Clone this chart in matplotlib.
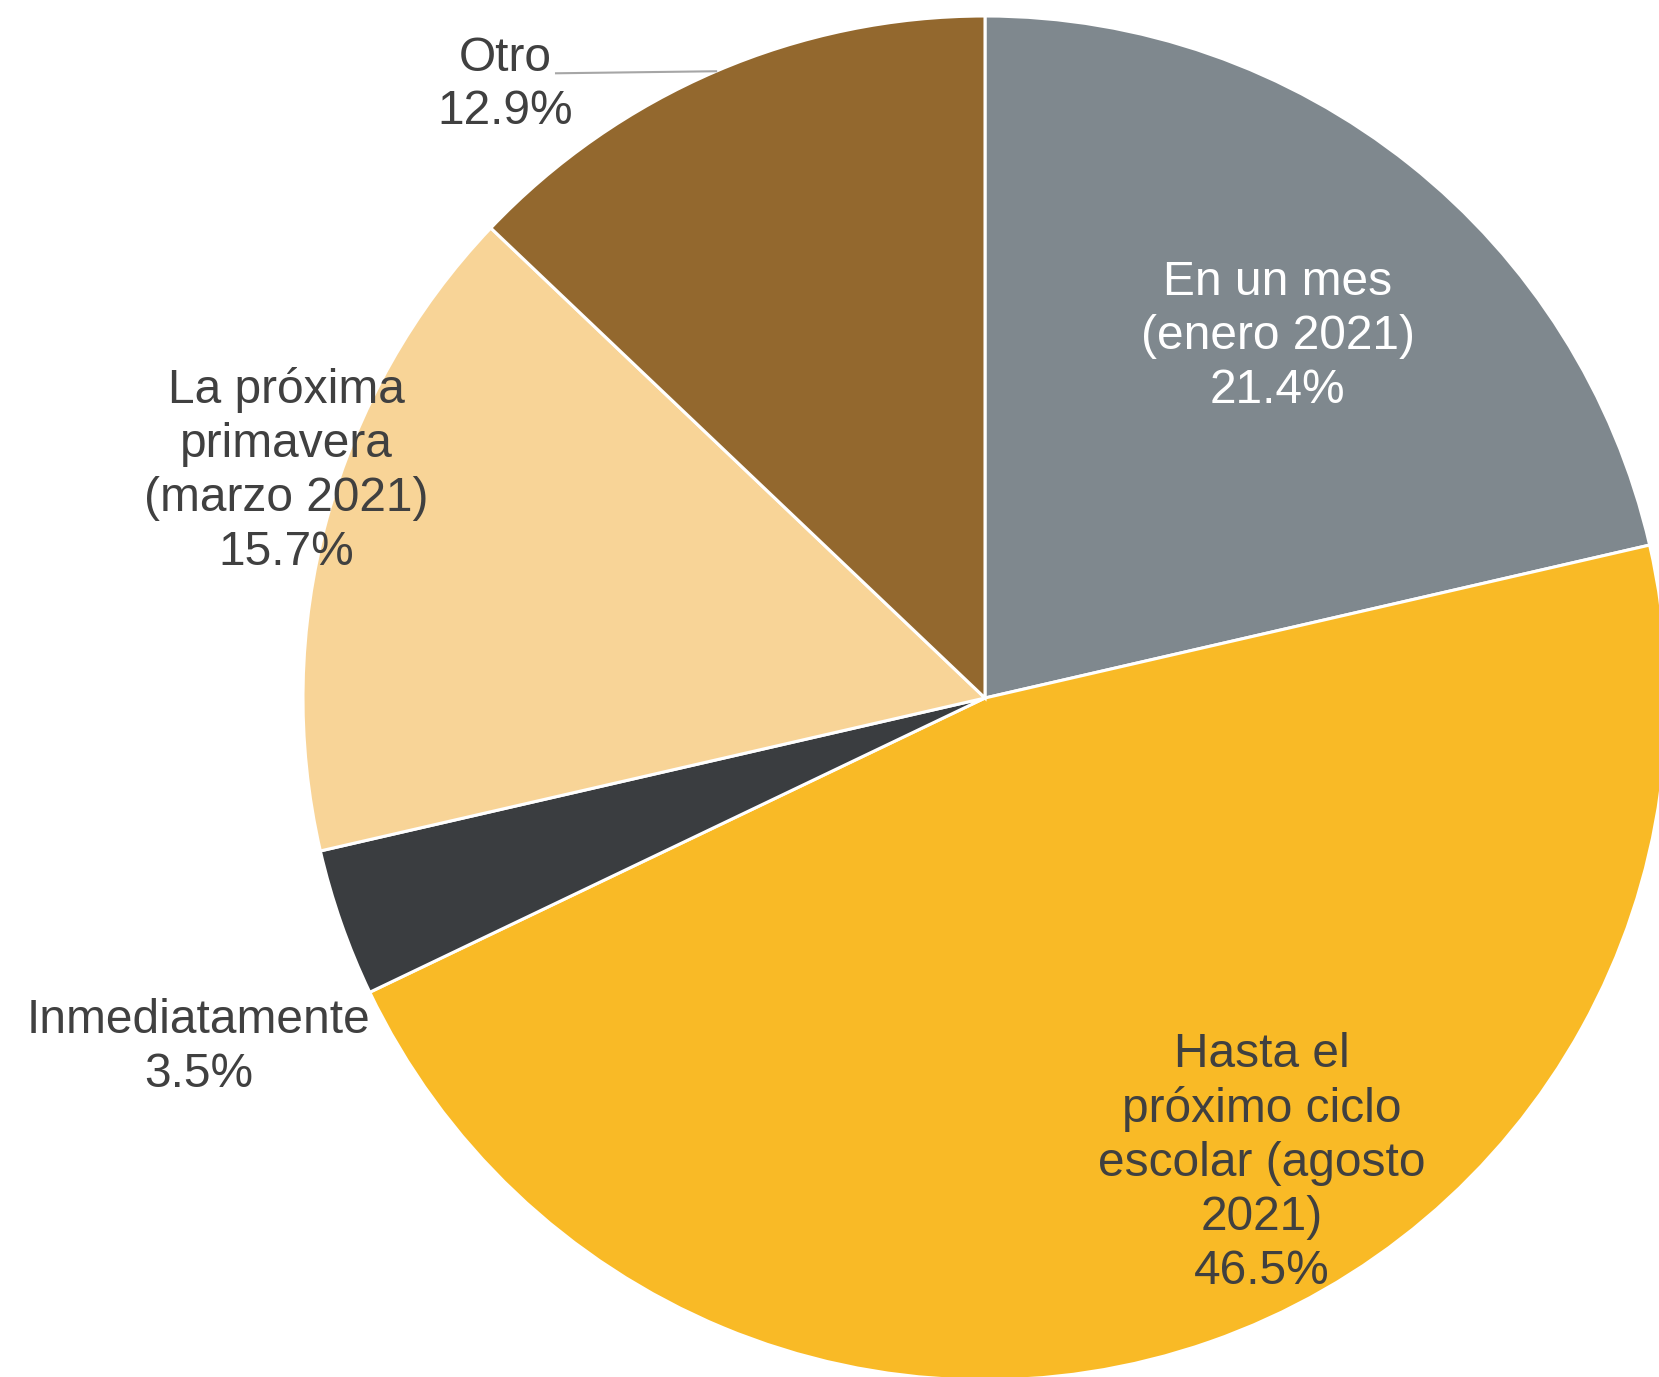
import numpy as np
import matplotlib.pyplot as plt

plt.rcParams['font.family'] = ['Liberation Sans', 'DejaVu Sans']

# data
labels = ['En un mes\n(enero 2021)', 'Hasta el\npróximo ciclo\nescolar (agosto\n2021)',
          'Inmediatamente', 'La próxima\nprimavera\n(marzo 2021)', 'Otro']
values = [21.4, 46.5, 3.5, 15.7, 12.9]
colors = ['#7F888E', '#F9BA26', '#3A3D40', '#F8D497', '#93682E']
text_colors = ['white', '#404040', '#404040', '#404040', '#404040']
# label centres, in units of the pie radius
label_pos = [(0.429, 0.530), (0.406, -0.682), (-1.153, -0.512), (-1.025, 0.333), (-0.704, 0.899)]

fig = plt.figure(figsize=(16.59, 13.77), dpi=100)
ax = fig.add_axes([0, 0, 1, 1])

wedges, _ = ax.pie(values, colors=colors, startangle=90, counterclock=False,
                   radius=1, center=(0, 0),
                   wedgeprops=dict(edgecolor='white', linewidth=2.2))

for i in range(len(values)):
    txt = labels[i] + '\n' + '%.1f%%' % values[i]
    ax.text(label_pos[i][0], label_pos[i][1], txt, ha='center', va='center',
            fontsize=34.5, color=text_colors[i], linespacing=1.25)

# leader line for "Otro"
w = wedges[4]
mid = np.deg2rad((w.theta1 + w.theta2) / 2.0)
ax.plot([-0.629, np.cos(mid)], [0.916, np.sin(mid)], color='#A6A6A6', lw=1.5)

c_x = 985 / 682.0
c_y = 698 / 682.0
ax.set_xlim(-c_x, 1659 / 682.0 - c_x)
ax.set_ylim(c_y - 1377 / 682.0, c_y)
ax.set_aspect('equal')
ax.axis('off')

fig.savefig('out.png', dpi=100)
